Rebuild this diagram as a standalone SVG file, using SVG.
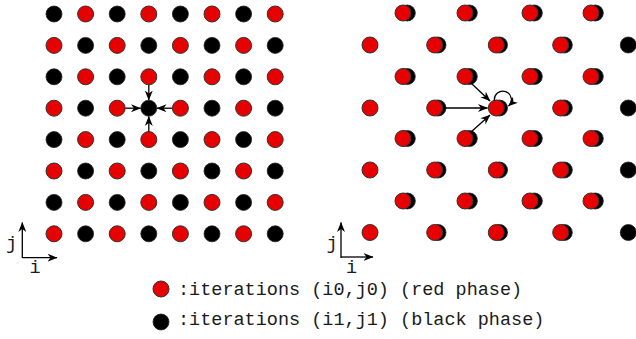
<svg xmlns="http://www.w3.org/2000/svg" width="636" height="339" viewBox="0 0 636 339">
<defs>
<marker id="ah" viewBox="0 0 10 8" refX="9.5" refY="4" markerWidth="10" markerHeight="8" markerUnits="userSpaceOnUse" orient="auto">
<path d="M0,0 L10,4 L0,8 L3,4 Z" fill="#000"/>
</marker>
<style>
.r{fill:#e60000;stroke:#333;stroke-width:1}
.b{fill:#000;stroke:#222;stroke-width:0.8}
.a{stroke:#000;stroke-width:1.3;fill:none;marker-end:url(#ah)}
.t{font-family:"Liberation Mono","Courier New",monospace;font-size:18.5px;fill:#1a1a1a}
</style>
</defs>
<rect width="636" height="339" fill="#fff"/>
<g id="left-grid">
<g id="row0"><circle class="b" cx="54" cy="14" r="8"/><circle class="r" cx="85.6" cy="14" r="8"/><circle class="b" cx="117.2" cy="14" r="8"/><circle class="r" cx="148.8" cy="14" r="8"/><circle class="b" cx="180.4" cy="14" r="8"/><circle class="r" cx="212" cy="14" r="8"/><circle class="b" cx="243.6" cy="14" r="8"/><circle class="r" cx="275.2" cy="14" r="8"/></g>
<g id="row1"><circle class="r" cx="54" cy="45.4" r="8"/><circle class="b" cx="85.6" cy="45.4" r="8"/><circle class="r" cx="117.2" cy="45.4" r="8"/><circle class="b" cx="148.8" cy="45.4" r="8"/><circle class="r" cx="180.4" cy="45.4" r="8"/><circle class="b" cx="212" cy="45.4" r="8"/><circle class="r" cx="243.6" cy="45.4" r="8"/><circle class="b" cx="275.2" cy="45.4" r="8"/></g>
<g id="row2"><circle class="b" cx="54" cy="76.8" r="8"/><circle class="r" cx="85.6" cy="76.8" r="8"/><circle class="b" cx="117.2" cy="76.8" r="8"/><circle class="r" cx="148.8" cy="76.8" r="8"/><circle class="b" cx="180.4" cy="76.8" r="8"/><circle class="r" cx="212" cy="76.8" r="8"/><circle class="b" cx="243.6" cy="76.8" r="8"/><circle class="r" cx="275.2" cy="76.8" r="8"/></g>
<g id="row3"><circle class="r" cx="54" cy="108.2" r="8"/><circle class="b" cx="85.6" cy="108.2" r="8"/><circle class="r" cx="117.2" cy="108.2" r="8"/><circle class="b" cx="148.8" cy="108.2" r="8"/><circle class="r" cx="180.4" cy="108.2" r="8"/><circle class="b" cx="212" cy="108.2" r="8"/><circle class="r" cx="243.6" cy="108.2" r="8"/><circle class="b" cx="275.2" cy="108.2" r="8"/></g>
<g id="row4"><circle class="b" cx="54" cy="139.6" r="8"/><circle class="r" cx="85.6" cy="139.6" r="8"/><circle class="b" cx="117.2" cy="139.6" r="8"/><circle class="r" cx="148.8" cy="139.6" r="8"/><circle class="b" cx="180.4" cy="139.6" r="8"/><circle class="r" cx="212" cy="139.6" r="8"/><circle class="b" cx="243.6" cy="139.6" r="8"/><circle class="r" cx="275.2" cy="139.6" r="8"/></g>
<g id="row5"><circle class="r" cx="54" cy="171" r="8"/><circle class="b" cx="85.6" cy="171" r="8"/><circle class="r" cx="117.2" cy="171" r="8"/><circle class="b" cx="148.8" cy="171" r="8"/><circle class="r" cx="180.4" cy="171" r="8"/><circle class="b" cx="212" cy="171" r="8"/><circle class="r" cx="243.6" cy="171" r="8"/><circle class="b" cx="275.2" cy="171" r="8"/></g>
<g id="row6"><circle class="b" cx="54" cy="202.4" r="8"/><circle class="r" cx="85.6" cy="202.4" r="8"/><circle class="b" cx="117.2" cy="202.4" r="8"/><circle class="r" cx="148.8" cy="202.4" r="8"/><circle class="b" cx="180.4" cy="202.4" r="8"/><circle class="r" cx="212" cy="202.4" r="8"/><circle class="b" cx="243.6" cy="202.4" r="8"/><circle class="r" cx="275.2" cy="202.4" r="8"/></g>
<g id="row7"><circle class="r" cx="54" cy="233.8" r="8"/><circle class="b" cx="85.6" cy="233.8" r="8"/><circle class="r" cx="117.2" cy="233.8" r="8"/><circle class="b" cx="148.8" cy="233.8" r="8"/><circle class="r" cx="180.4" cy="233.8" r="8"/><circle class="b" cx="212" cy="233.8" r="8"/><circle class="r" cx="243.6" cy="233.8" r="8"/><circle class="b" cx="275.2" cy="233.8" r="8"/></g>
</g>
<g id="right-grid">
<g id="rrow0"><circle class="b" cx="407.3" cy="13" r="8"/><circle class="r" cx="403" cy="13" r="8"/><circle class="b" cx="469.3" cy="13" r="8"/><circle class="r" cx="465" cy="13" r="8"/><circle class="b" cx="534.3" cy="13" r="8"/><circle class="r" cx="530" cy="13" r="8"/><circle class="b" cx="595.3" cy="13" r="8"/><circle class="r" cx="591" cy="13" r="8"/></g>
<g id="rrow1"><circle class="r" cx="370" cy="45" r="8"/><circle class="b" cx="438" cy="45" r="8"/><circle class="r" cx="434.7" cy="45" r="8"/><circle class="b" cx="499.5" cy="45" r="8"/><circle class="r" cx="496.3" cy="45" r="8"/><circle class="b" cx="564.3" cy="45" r="8"/><circle class="r" cx="560.7" cy="45" r="8"/><circle class="b" cx="628.3" cy="45" r="8"/></g>
<g id="rrow2"><circle class="b" cx="407.3" cy="76.5" r="8"/><circle class="r" cx="403" cy="76.5" r="8"/><circle class="b" cx="469.3" cy="76.5" r="8"/><circle class="r" cx="465" cy="76.5" r="8"/><circle class="b" cx="534.3" cy="76.5" r="8"/><circle class="r" cx="530" cy="76.5" r="8"/><circle class="b" cx="595.3" cy="76.5" r="8"/><circle class="r" cx="591" cy="76.5" r="8"/></g>
<g id="rrow3"><circle class="r" cx="370" cy="108" r="8"/><circle class="b" cx="438" cy="108" r="8"/><circle class="r" cx="434.7" cy="108" r="8"/><circle class="b" cx="499.5" cy="108" r="8"/><circle class="r" cx="496.3" cy="108" r="8"/><circle class="b" cx="564.3" cy="108" r="8"/><circle class="r" cx="560.7" cy="108" r="8"/><circle class="b" cx="628.3" cy="108" r="8"/></g>
<g id="rrow4"><circle class="b" cx="407.3" cy="138.5" r="8"/><circle class="r" cx="403" cy="138.5" r="8"/><circle class="b" cx="469.3" cy="138.5" r="8"/><circle class="r" cx="465" cy="138.5" r="8"/><circle class="b" cx="534.3" cy="138.5" r="8"/><circle class="r" cx="530" cy="138.5" r="8"/><circle class="b" cx="595.3" cy="138.5" r="8"/><circle class="r" cx="591" cy="138.5" r="8"/></g>
<g id="rrow5"><circle class="r" cx="370" cy="170" r="8"/><circle class="b" cx="438" cy="170" r="8"/><circle class="r" cx="434.7" cy="170" r="8"/><circle class="b" cx="499.5" cy="170" r="8"/><circle class="r" cx="496.3" cy="170" r="8"/><circle class="b" cx="564.3" cy="170" r="8"/><circle class="r" cx="560.7" cy="170" r="8"/><circle class="b" cx="628.3" cy="170" r="8"/></g>
<g id="rrow6"><circle class="b" cx="407.3" cy="201" r="8"/><circle class="r" cx="403" cy="201" r="8"/><circle class="b" cx="469.3" cy="201" r="8"/><circle class="r" cx="465" cy="201" r="8"/><circle class="b" cx="534.3" cy="201" r="8"/><circle class="r" cx="530" cy="201" r="8"/><circle class="b" cx="595.3" cy="201" r="8"/><circle class="r" cx="591" cy="201" r="8"/></g>
<g id="rrow7"><circle class="r" cx="370" cy="232.5" r="8"/><circle class="b" cx="438" cy="232.5" r="8"/><circle class="r" cx="434.7" cy="232.5" r="8"/><circle class="b" cx="499.5" cy="232.5" r="8"/><circle class="r" cx="496.3" cy="232.5" r="8"/><circle class="b" cx="564.3" cy="232.5" r="8"/><circle class="r" cx="560.7" cy="232.5" r="8"/><circle class="b" cx="628.3" cy="232.5" r="8"/></g>
</g>
<g id="connectors">
<line class="a" x1="148.8" y1="85" x2="148.8" y2="100"/>
<line class="a" x1="125.5" y1="108.2" x2="140.5" y2="108.2"/>
<line class="a" x1="172" y1="108.2" x2="157" y2="108.2"/>
<line class="a" x1="148.8" y1="131.5" x2="148.8" y2="116.5"/>
<line class="a" x1="443.5" y1="108" x2="487.5" y2="108"/>
<line class="a" x1="471" y1="83" x2="490" y2="101"/>
<line class="a" x1="471" y1="132" x2="490" y2="115"/>
<path class="a" d="M494.5,101 A8.5,8.5 0 1 1 508.5,106"/>
<line class="a" x1="22.3" y1="258" x2="22.3" y2="222.5"/>
<line class="a" x1="22.3" y1="257.7" x2="57" y2="257.7"/>
<line class="a" x1="341" y1="258" x2="341" y2="222.5"/>
<line class="a" x1="341" y1="257" x2="373" y2="257"/>
</g>
<g id="axis-labels">
<text class="t" x="11.5" y="249" text-anchor="middle">j</text>
<text class="t" x="35" y="273" text-anchor="middle">i</text>
<text class="t" x="332" y="249" text-anchor="middle">j</text>
<text class="t" x="351.5" y="273" text-anchor="middle">i</text>
</g>
<g id="legend-red">
<circle class="r" cx="161" cy="289" r="8"/>
<text class="t" x="178" y="295">:iterations (i0,j0) (red phase)</text>
</g>
<g id="legend-black">
<circle class="b" cx="161" cy="322" r="8"/>
<text class="t" x="178" y="325">:iterations (i1,j1) (black phase)</text>
</g>
</svg>
